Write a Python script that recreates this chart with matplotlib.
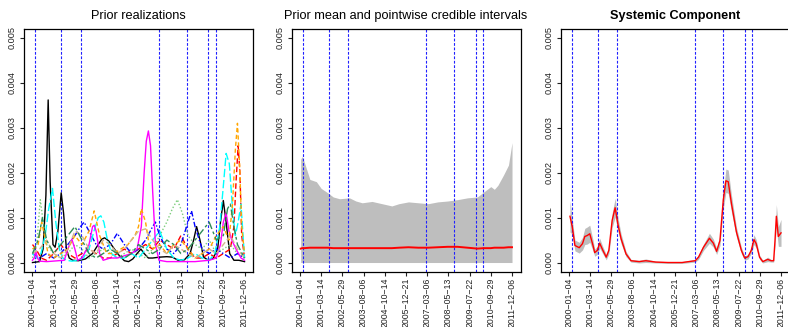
import numpy as np
import matplotlib.pyplot as plt

plt.rcParams['font.family'] = ['Liberation Sans', 'DejaVu Sans']

# trading-day index axis, labelled with dates every 300 days
tick_pos = [0, 300, 600, 900, 1200, 1500, 1800, 2100, 2400, 2700, 3000]
tick_lab = ['2000-01-04', '2001-03-14', '2002-05-29', '2003-08-06', '2004-10-14',
            '2005-12-21', '2007-03-06', '2008-05-13', '2009-07-22', '2010-09-29',
            '2011-12-06']
yticks = [0.000, 0.001, 0.002, 0.003, 0.004, 0.005]

# change points (day index)
breaks = [40, 410, 680, 1790, 2185, 2490, 2595]

# ---- prior realizations ----
blk_x = [0, 100, 150, 190, 222, 250, 290, 320, 360, 406, 440, 480, 520, 570, 650, 750, 850,
         930, 980, 1020, 1080, 1150, 1230, 1300, 1360, 1420, 1480, 1534, 1580, 1640, 1700,
         1800, 1900, 1980, 2060, 2150, 2230, 2280, 2322, 2370, 2420, 2480, 2550, 2620, 2660,
         2700, 2740, 2790, 2850, 2920, 3000]
blk_y = [0.0, 0.00002, 0.0003, 0.0015, 0.00362, 0.0018, 0.0004, 0.00034, 0.0007, 0.00155,
         0.0011, 0.0003, 0.0001, 0.00005, 0.00004, 0.00008, 0.0002, 0.0004, 0.00052, 0.00055,
         0.00048, 0.00032, 0.00015, 0.00004, 0.00002, 0.00008, 0.0002, 0.0003, 0.0002, 0.0001,
         0.0001, 0.00012, 0.00013, 0.00012, 0.00005, 0.00006, 0.0002, 0.0005, 0.0008, 0.0005,
         0.00012, 0.00006, 0.00008, 0.0003, 0.0009, 0.00138, 0.0009, 0.0002, 0.00005, 0.00005,
         0.00002]

mag_x = [0, 25, 47, 70, 100, 200, 450, 500, 557, 600, 640, 700, 800, 850, 873, 900, 950, 1000,
         1100, 1200, 1300, 1400, 1480, 1540, 1580, 1610, 1640, 1670, 1700, 1740, 1790, 1900,
         2100, 2300, 2500, 2600, 2660, 2700, 2740, 2780, 2820, 2880, 2950, 3000]
mag_y = [0.00005, 0.0001, 0.00025, 0.0001, 0.00003, 0.00002, 0.00005, 0.0003, 0.00052,
         0.0003, 0.00005, 0.0001, 0.0004, 0.0008, 0.00083, 0.0007, 0.0002, 0.00005, 0.0001,
         0.0001, 0.00015, 0.0002, 0.0003, 0.0008, 0.002, 0.0027, 0.00293, 0.0026, 0.0016,
         0.0004, 0.00005, 0.00002, 0.00002, 0.00002, 0.00005, 0.0001, 0.0004, 0.0009, 0.0011,
         0.0007, 0.0005, 0.0003, 0.0001, 0.00005]

cyn_x = [0, 60, 120, 180, 230, 283, 330, 380, 430, 480, 560, 650, 720, 800, 870, 930, 967,
         1010, 1060, 1120, 1200, 1300, 1400, 1500, 1600, 1700, 1800, 1900, 2000, 2100, 2200,
         2300, 2400, 2500, 2580, 2650, 2700, 2740, 2785, 2830, 2870, 2910, 2950, 3000]
cyn_y = [0.0002, 0.0001, 0.0002, 0.0006, 0.0012, 0.00165, 0.0009, 0.0003, 0.0001, 0.00005,
         0.00003, 0.00005, 0.0001, 0.0003, 0.0007, 0.001, 0.00104, 0.0009, 0.0005, 0.0002,
         0.0001, 0.0001, 0.0002, 0.0001, 0.0003, 0.0005, 0.0007, 0.0003, 0.0001, 0.00005,
         0.0001, 0.0002, 0.0001, 0.00005, 0.0002, 0.0008, 0.0017, 0.00243, 0.0022, 0.0012,
         0.0006, 0.0009, 0.0013, 0.0001]

org_x = [0, 80, 130, 170, 220, 300, 400, 500, 600, 700, 800, 873, 950, 1050, 1150, 1250,
         1350, 1450, 1500, 1540, 1600, 1650, 1700, 1800, 1900, 2000, 2100, 2200, 2300, 2400,
         2500, 2600, 2700, 2780, 2830, 2870, 2900, 2930, 2960, 3000]
org_y = [0.0003, 0.0004, 0.0009, 0.0006, 0.0002, 0.0001, 0.0002, 0.0003, 0.0006, 0.0004,
         0.0007, 0.00115, 0.0006, 0.0002, 0.0002, 0.0003, 0.0004, 0.0006, 0.0008, 0.0012,
         0.0009, 0.0004, 0.0003, 0.0004, 0.0002, 0.0004, 0.0005, 0.0003, 0.0001, 0.0002,
         0.0003, 0.0006, 0.0008, 0.0005, 0.0013, 0.0025, 0.0031, 0.0022, 0.0008, 0.0002]

red_x = [0, 50, 120, 200, 300, 400, 500, 600, 700, 800, 900, 1000, 1100, 1200, 1300, 1400,
         1500, 1600, 1700, 1800, 1900, 2000, 2100, 2200, 2300, 2400, 2500, 2600, 2700, 2800,
         2850, 2880, 2910, 2935, 2960, 3000]
red_y = [0.0004, 0.0003, 0.0001, 0.00005, 0.0002, 0.0004, 0.0002, 0.0001, 0.0002, 0.0003,
         0.0002, 0.0001, 0.0001, 0.0002, 0.0003, 0.0002, 0.0003, 0.0004, 0.0003, 0.0005,
         0.0004, 0.0003, 0.0006, 0.0003, 0.0001, 0.0001, 0.0002, 0.0001, 0.0002, 0.0003,
         0.0008, 0.0018, 0.0026, 0.002, 0.0006, 0.0001]

grn_x = [0, 60, 110, 160, 200, 300, 400, 500, 600, 700, 800, 900, 1000, 1100, 1200, 1300,
         1400, 1500, 1600, 1700, 1800, 1900, 1980, 2050, 2120, 2200, 2300, 2400, 2500, 2600,
         2700, 2800, 2900, 3000]
grn_y = [0.0001, 0.0004, 0.0014, 0.0008, 0.0004, 0.0002, 0.0001, 0.0002, 0.0004, 0.0003,
         0.0001, 0.0002, 0.0003, 0.0002, 0.0001, 0.0002, 0.0003, 0.0002, 0.0001, 0.0003,
         0.0006, 0.0009, 0.0012, 0.0014, 0.0011, 0.0006, 0.0004, 0.0003, 0.0005, 0.0002,
         0.0003, 0.0004, 0.0002, 0.0001]

blu_x = [0, 100, 200, 300, 400, 500, 600, 680, 730, 800, 900, 1000, 1100, 1200, 1300, 1400,
         1500, 1600, 1700, 1740, 1800, 1900, 2000, 2100, 2200, 2250, 2300, 2400, 2500, 2600,
         2700, 2800, 2900, 3000]
blu_y = [0.0002, 0.0001, 0.0002, 0.0001, 0.0002, 0.0004, 0.0006, 0.0008, 0.0009, 0.0007,
         0.0004, 0.0003, 0.0004, 0.00065, 0.0004, 0.0002, 0.0003, 0.0005, 0.0008, 0.0009,
         0.0006, 0.0003, 0.0002, 0.0004, 0.0009, 0.00115, 0.0008, 0.0003, 0.0002, 0.0003,
         0.0002, 0.0001, 0.0002, 0.0001]

tan_x = [0, 100, 200, 300, 400, 500, 600, 700, 800, 900, 1000, 1100, 1200, 1300, 1400, 1500,
         1600, 1700, 1800, 1900, 2000, 2100, 2200, 2300, 2400, 2500, 2600, 2700, 2800, 2900,
         3000]
tan_y = [0.0002, 0.0003, 0.0005, 0.0002, 0.0001, 0.0003, 0.0007, 0.0006, 0.0003, 0.0002,
         0.0005, 0.0004, 0.0002, 0.0003, 0.0005, 0.0007, 0.00075, 0.0005, 0.0003, 0.0002,
         0.0004, 0.0003, 0.0002, 0.0001, 0.0002, 0.0003, 0.0002, 0.0004, 0.0006, 0.0003,
         0.0001]

sea_x = [0, 80, 140, 200, 300, 400, 500, 600, 700, 800, 900, 1000, 1100, 1200, 1300, 1400,
         1500, 1600, 1700, 1800, 1900, 2000, 2100, 2200, 2300, 2400, 2500, 2600, 2700, 2760,
         2800, 2850, 2900, 3000]
sea_y = [0.0002, 0.0005, 0.001, 0.0005, 0.0002, 0.0004, 0.0006, 0.0008, 0.0005, 0.0002,
         0.0001, 0.0002, 0.0003, 0.0002, 0.0001, 0.0002, 0.0004, 0.0003, 0.0002, 0.0003,
         0.0005, 0.0004, 0.0002, 0.0003, 0.0005, 0.0007, 0.0009, 0.0005, 0.0006, 0.0012,
         0.0013, 0.0008, 0.0004, 0.0001]

# ---- prior mean and credible band ----
pri_x = [10, 30, 60, 140, 232, 300, 395, 470, 560, 700, 790, 880, 1020, 1160, 1300, 1400,
         1535, 1675, 1815, 1950, 2090, 2230, 2370, 2510, 2600, 2700, 2750, 2800, 2880, 2950,
         3000]
pri_up = [0.0023, 0.00236, 0.00224, 0.00185, 0.0018, 0.00165, 0.00155, 0.00146, 0.00142,
          0.00144, 0.00137, 0.00133, 0.00136, 0.00131, 0.00126, 0.00131, 0.00135, 0.00133,
          0.00131, 0.00135, 0.00137, 0.0014, 0.00144, 0.00146, 0.00157, 0.00169, 0.00163,
          0.00172, 0.00195, 0.00217, 0.00267]
pri_lo = [0.0] * len(pri_x)
pri_mean = [0.00031, 0.00032, 0.00032, 0.00033, 0.00033, 0.00033, 0.00033, 0.00032,
            0.00032, 0.00032, 0.00032, 0.00032, 0.00032, 0.00032, 0.00032, 0.00033, 0.00034,
            0.00033, 0.00033, 0.00034, 0.00035, 0.00035, 0.00033, 0.00031, 0.00032, 0.00032,
            0.00033, 0.00033, 0.00033, 0.00034, 0.00034]

# ---- systemic component: posterior mean and band ----
sys_x = [14, 47, 84, 145, 191, 224, 257, 294, 340, 364, 401, 434, 480, 527, 564, 611, 653,
         695, 737, 807, 877, 993, 1087, 1227, 1400, 1600, 1786, 1833, 1903, 1987, 2043, 2089,
         2136, 2183, 2220, 2253, 2299, 2369, 2439, 2486, 2533, 2579, 2617, 2649, 2696, 2742,
         2812, 2859, 2896, 2915, 2934, 2962, 3000]
sys_mean = [0.00103, 0.00079, 0.00038, 0.00033, 0.00042, 0.00058, 0.0006, 0.00064, 0.00038,
            0.00022, 0.00027, 0.00043, 0.00027, 0.00012, 0.00027, 0.00094, 0.00122, 0.00083,
            0.00053, 0.00019, 0.00004, 0.00002, 0.00004, 0.00001, 0.0, 0.0, 0.00004, 0.00012,
            0.00034, 0.00054, 0.00043, 0.00025, 0.00049, 0.00139, 0.00182, 0.0018, 0.00131,
            0.00068, 0.00027, 0.0001, 0.00013, 0.00027, 0.00051, 0.00042, 0.00012, 0.00002,
            0.00007, 0.00004, 0.00004, 0.00049, 0.00103, 0.00058, 0.00066]
sys_half = [0.00035, 0.00016, 0.00012, 0.00012, 0.00014, 0.00018, 0.00019, 0.00019, 0.00012,
            0.00008, 0.00009, 0.00011, 0.00008, 0.00006, 0.00008, 0.00016, 0.00021, 0.00015,
            0.00011, 0.00006, 0.00003, 0.00003, 0.00004, 0.00002, 0.00002, 0.00002, 0.00003,
            0.00005, 0.00007, 0.00011, 0.00009, 0.00007, 0.00011, 0.00019, 0.00026, 0.00026,
            0.00019, 0.00011, 0.00007, 0.00005, 0.00005, 0.00007, 0.00011, 0.00009, 0.00005,
            0.00003, 0.00005, 0.00003, 0.00003, 0.00011, 0.00026, 0.00022, 0.0003]

realizations = [
    (blk_x, blk_y, 'black', '-'),
    (red_x, red_y, 'red', (0, (4, 2))),
    (grn_x, grn_y, '#7ccd7c', (0, (1, 1.5))),
    (blu_x, blu_y, 'blue', (0, (4, 1.5, 1, 1.5))),
    (cyn_x, cyn_y, 'cyan', (0, (6, 2))),
    (mag_x, mag_y, 'magenta', '-'),
    (org_x, org_y, 'orange', (0, (3, 2))),
    (tan_x, tan_y, 'tan', (0, (4, 2))),
    (sea_x, sea_y, 'seagreen', (0, (6, 2, 2, 2))),
]

W, H = 788, 327
fig = plt.figure(figsize=(W / 100, H / 100), dpi=100)
lefts = [24, 291.5, 560.5]
top, bot, wid = 29, 271.5, 229
axes = [fig.add_axes([l / W, (H - bot) / H, wid / W, (bot - top) / H]) for l in lefts]


def style(ax, title, bold=False):
    ax.set_xlim(-120, 3120)
    ax.set_ylim(-0.0002, 0.0052)
    ax.set_xticks(tick_pos)
    # R draws the hyphens of axis labels as minus signs
    ax.set_xticklabels([t.replace('-', '\u2212') for t in tick_lab], rotation=90,
                       fontsize=6.3)
    ax.set_yticks(yticks)
    ax.set_yticklabels(['%.3f' % v for v in yticks], rotation=90, va='center', fontsize=6.6)
    ax.tick_params(length=3, width=0.8, pad=2, colors='#222222')
    ax.tick_params(axis='x', pad=1.5)
    for s in ax.spines.values():
        s.set_linewidth(0.9)
    for b in breaks:
        ax.axvline(b, color='#2020ff', lw=0.8, ls=(0, (2.5, 1.5)), zorder=1)
    ax.set_title(title, fontsize=9.2, fontweight='bold' if bold else 'normal', pad=7)


ax1, ax2, ax3 = axes
for x, y, c, ls in realizations:
    ax1.plot(x, y, color=c, ls=ls, lw=1.0, zorder=2)
style(ax1, 'Prior realizations')

ax2.fill_between(pri_x, pri_lo, pri_up, color='#bebebe', lw=0, zorder=0)
ax2.plot(pri_x, pri_mean, color='red', lw=1.4, zorder=3)
style(ax2, 'Prior mean and pointwise credible intervals')

sys_m = np.array(sys_mean)
sys_h = np.array(sys_half)
ax3.fill_between(sys_x, sys_m - sys_h, sys_m + sys_h, color='#bebebe', lw=0, zorder=0)
ax3.plot(sys_x, sys_m, color='red', lw=1.0, zorder=3)
style(ax3, 'Systemic Component', bold=True)

fig.savefig('out.png', dpi=100)
